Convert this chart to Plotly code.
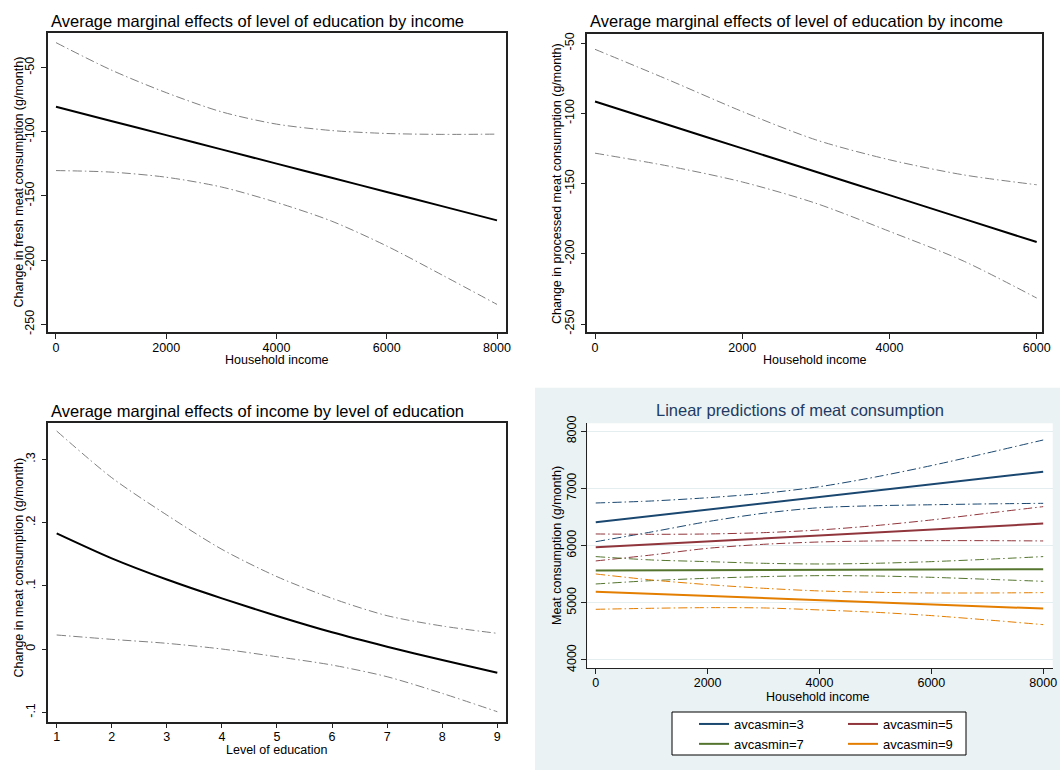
import plotly.graph_objects as go

# ---------------- data ----------------
# Panel 1: fresh meat, by household income
P1_INCOME = [0, 1000, 2000, 3000, 4000, 5000, 6000, 7000, 8000]
P1_EFFECT = [-80.5, -91.6, -102.6, -113.7, -124.8, -135.8, -146.9, -157.9, -169.0]
P1_UPPER = [-30.5, -51.8, -69.5, -84.4, -94.0, -99.0, -101.3, -102.0, -101.8]
P1_LOWER = [-130.2, -131.4, -135.4, -143.0, -155.0, -169.6, -189.0, -211.5, -234.5]
P12_YTICKS = [-250, -200, -150, -100, -50]
P12_YTEXT = ["-250", "-200", "-150", "-100", "-50"]

# Panel 2: processed meat, by household income
P2_INCOME = [0, 1000, 2000, 3000, 4000, 5000, 6000]
P2_EFFECT = [-91.5, -108.2, -124.9, -141.5, -158.2, -174.9, -191.6]
P2_UPPER = [-54.3, -76.1, -98.6, -118.8, -133.0, -143.7, -150.8]
P2_LOWER = [-128.3, -137.5, -148.8, -164.0, -184.0, -205.0, -231.5]

# Panel 3: effect of income by level of education
P3_EDU = [1, 2, 3, 4, 5, 6, 7, 8, 9]
P3_EFFECT = [0.183, 0.1435, 0.110, 0.0802, 0.0523, 0.0265, 0.0038, -0.0173, -0.0373]
P3_UPPER = [0.3448, 0.271, 0.212, 0.1577, 0.1145, 0.0802, 0.0528, 0.0365, 0.0249]
P3_LOWER = [0.0223, 0.0154, 0.0091, 0.0001, -0.0121, -0.0252, -0.0437, -0.070, -0.099]
P3_TICKVALS = [-0.1, 0, 0.1, 0.2, 0.3]
P3_TICKTEXT = ["-.1", "0", ".1", ".2", ".3"]

# Panel 4: linear predictions
P4_INCOME = [0, 1000, 2000, 3000, 4000, 5000, 6000, 7000, 8000]
P4_NAMES = ["avcasmin=3", "avcasmin=5", "avcasmin=7", "avcasmin=9"]
P4_MAIN = [
    [6408, 6519, 6630, 6740, 6851, 6962, 7073, 7183, 7294],
    [5971, 6023, 6075, 6126, 6178, 6230, 6282, 6333, 6385],
    [5563, 5566, 5569, 5572, 5575, 5577, 5580, 5583, 5586],
    [5195, 5158, 5121, 5084, 5047, 5009, 4972, 4935, 4898],
]
P4_UPPER = [
    [6746, 6781, 6838, 6915, 7031, 7200, 7400, 7620, 7848],
    [6204, 6198, 6204, 6227, 6274, 6350, 6449, 6566, 6682],
    [5808, 5749, 5720, 5691, 5679, 5691, 5720, 5761, 5808],
    [5504, 5399, 5318, 5254, 5207, 5184, 5172, 5172, 5178],
]
P4_LOWER = [
    [6069, 6240, 6420, 6566, 6664, 6698, 6715, 6730, 6740],
    [5732, 5837, 5953, 6023, 6064, 6082, 6087, 6087, 6082],
    [5329, 5388, 5429, 5458, 5475, 5469, 5446, 5411, 5376],
    [4886, 4904, 4915, 4910, 4875, 4834, 4776, 4700, 4618],
]
P4_COLORS = ["#1A476F", "#90353B", "#55752F", "#E37E00"]
P4_GROUPS = ["c1", "c2", "c1", "c2"]

TITLE_EDU = "Average marginal effects of level of education by income"
TITLE_INC = "Average marginal effects of income by level of education"
TITLE_PRED = "Linear predictions of meat consumption"

# ---------------- layout helpers ----------------
W, H = 1060, 770
FONT = "Liberation Sans, Arial, sans-serif"
CI_DASH = "9px,3px,1.5px,3px"


def px(x):
    return x / W


def py(y):
    return 1 - y / H


fig = go.Figure()

# Panels 1-3 (black estimate, grey CI)
for xs, main, up, lo, ax in [
    (P1_INCOME, P1_EFFECT, P1_UPPER, P1_LOWER, ""),
    (P2_INCOME, P2_EFFECT, P2_UPPER, P2_LOWER, "2"),
    (P3_EDU, P3_EFFECT, P3_UPPER, P3_LOWER, "3"),
]:
    for ys in (up, lo):
        fig.add_trace(go.Scatter(x=xs, y=ys, mode="lines", showlegend=False,
                                 line=dict(color="#808080", width=1, dash=CI_DASH, shape="spline",
                                           smoothing=0.8),
                                 xaxis="x" + ax, yaxis="y" + ax))
    fig.add_trace(go.Scatter(x=xs, y=main, mode="lines", showlegend=False,
                             line=dict(color="black", width=2, shape="spline", smoothing=0.8),
                             xaxis="x" + ax, yaxis="y" + ax))

# Panel 4 CIs
for i in range(4):
    for ys in (P4_UPPER[i], P4_LOWER[i]):
        fig.add_trace(go.Scatter(x=P4_INCOME, y=ys, mode="lines", showlegend=False,
                                 line=dict(color=P4_COLORS[i], width=1, dash=CI_DASH, shape="spline",
                                           smoothing=0.8),
                                 xaxis="x4", yaxis="y4"))
# Panel 4 main lines (ordered for grouped legend columns)
for i in [0, 2, 1, 3]:
    fig.add_trace(go.Scatter(x=P4_INCOME, y=P4_MAIN[i], mode="lines", name=P4_NAMES[i],
                             legendgroup=P4_GROUPS[i],
                             line=dict(color=P4_COLORS[i], width=2),
                             xaxis="x4", yaxis="y4"))

tickfont = dict(family=FONT, size=12.5, color="black")


def xax(domain, rng, tickvals, anchor, mirror=True, lw=1.5, standoff=-2):
    return dict(domain=domain, range=rng, tickvals=tickvals, anchor=anchor, automargin=False,
                showline=True, linecolor="#222", linewidth=lw, mirror=mirror,
                ticks="outside", ticklen=5, tickcolor="#222", tickwidth=1,
                ticklabelstandoff=standoff,
                showgrid=False, zeroline=False, tickfont=tickfont)


def yax(domain, rng, tickvals, anchor, ticktext=None, mirror=True, grid=False, lw=1.5, standoff=2):
    d = dict(domain=domain, range=rng, tickvals=tickvals, anchor=anchor, automargin=False,
             showline=True, linecolor="#222", linewidth=lw, mirror=mirror,
             ticks="outside", ticklen=5, tickcolor="#222", tickwidth=1,
             ticklabelstandoff=standoff,
             tickangle=-90, showgrid=grid, gridcolor="#E4EDEF", gridwidth=1,
             zeroline=False, tickfont=tickfont)
    if ticktext is not None:
        d["ticktext"] = ticktext
    return d


def label(text, x, y, angle=0, size=12.5, color="black", xanchor="center"):
    return dict(text=text, x=px(x), y=py(y), xref="paper", yref="paper", xanchor=xanchor,
                yanchor="middle", showarrow=False, textangle=angle,
                font=dict(family=FONT, size=size, color=color))


fig.update_layout(
    template="none",
    width=W, height=H,
    margin=dict(l=0, r=0, t=0, b=0, autoexpand=False),
    paper_bgcolor="white", plot_bgcolor="white",
    font=dict(family=FONT, color="black"),
    xaxis=xax([px(48), px(506)], [-145, 8163], [0, 2000, 4000, 6000, 8000], "y"),
    yaxis=yax([py(332), py(33)], [-256, -23], P12_YTICKS, "x", ticktext=P12_YTEXT),
    xaxis2=xax([px(587.3), px(1041.7)], [-105, 6068], [0, 2000, 4000, 6000], "y2"),
    yaxis2=yax([py(332), py(34.3)], [-255.7, -43.6], P12_YTICKS, "x2", ticktext=P12_YTEXT),
    xaxis3=xax([px(48.3), px(506)], [0.848, 9.158], [1, 2, 3, 4, 5, 6, 7, 8, 9], "y3"),
    yaxis3=yax([py(721.7), py(423.3)], [-0.1148, 0.357], P3_TICKVALS, "x3", ticktext=P3_TICKTEXT),
    xaxis4=xax([px(587.3), px(1052.7)], [-151, 8170], [0, 2000, 4000, 6000, 8000], "y4",
               mirror=False, lw=1, standoff=-2),
    yaxis4=yax([py(668.3), py(423.3)], [3854, 8140], [4000, 5000, 6000, 7000, 8000], "x4",
               mirror=False, grid=True, lw=1, standoff=0),
    legend=dict(orientation="h", traceorder="grouped", x=px(694), xanchor="left",
                y=py(709), yanchor="top", bgcolor="rgba(0,0,0,0)",
                borderwidth=0, font=dict(family=FONT, size=13, color="black"),
                entrywidth=104, tracegroupgap=0),
    shapes=[
        dict(type="rect", xref="paper", yref="paper", x0=px(535), x1=1, y0=0, y1=py(387.7),
             fillcolor="#EAF2F3", line=dict(width=0), layer="below"),
        dict(type="rect", xref="x4 domain", yref="y4 domain", x0=0, x1=1, y0=0, y1=1,
             fillcolor="white", line=dict(width=0), layer="below"),
        dict(type="rect", xref="paper", yref="paper", x0=px(672), x1=px(966), y0=py(755), y1=py(712),
             fillcolor="white", line=dict(width=1, color="black"), layer="below"),
    ],
    annotations=[
        label(TITLE_EDU, 49, 21, size=16.5, xanchor="left"),
        label(TITLE_EDU, 587.5, 21, size=16.5, xanchor="left"),
        label(TITLE_INC, 49, 410.5, size=16.5, xanchor="left"),
        label(TITLE_PRED, 799.5, 410, size=16.5, color="#1F3A63"),
        # x-axis titles
        label("Household income", 277, 360),
        label("Household income", 815, 360),
        label("Level of education", 277, 750),
        label("Household income", 818, 697),
        # y-axis titles
        label("Change in fresh meat consumption (g/month)", 18, 182.5, angle=-90),
        label("Change in processed meat consumption (g/month)", 557, 184, angle=-90),
        label("Change in meat consumption (g/month)", 18, 567.5, angle=-90),
        label("Meat consumption (g/month)", 557, 546, angle=-90),
    ],
)

fig.write_html("out.html", config={"displayModeBar": False},
               post_script="document.body.style.margin='0';")
